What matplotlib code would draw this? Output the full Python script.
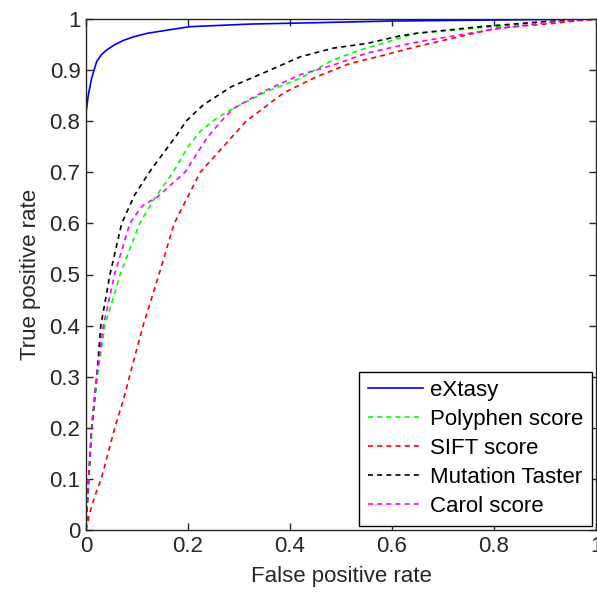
import matplotlib
matplotlib.use("Agg")
import matplotlib.pyplot as plt

# eXtasy
extasy_fpr = [0, 0, 0.0045, 0.011, 0.021, 0.03, 0.04, 0.055, 0.073, 0.093, 0.12, 0.158, 0.204, 0.32, 0.46, 0.6, 0.8, 1.0]
extasy_tpr = [0, 0.816, 0.851, 0.884, 0.917, 0.93, 0.939, 0.949, 0.958, 0.965, 0.972, 0.978, 0.985, 0.99, 0.993, 0.996, 0.998, 1.0]

# Polyphen score
polyphen_fpr = [0, 0.006, 0.012, 0.022, 0.037, 0.067, 0.105, 0.135, 0.171, 0.2, 0.224, 0.256, 0.289,
                0.354, 0.42, 0.485, 0.537, 0.616, 0.648, 0.8, 0.9, 1.0]
polyphen_tpr = [0, 0.1, 0.2, 0.3, 0.4, 0.5, 0.6, 0.65, 0.7, 0.75, 0.78, 0.806, 0.825,
                0.858, 0.884, 0.92, 0.939, 0.963, 0.972, 0.985, 0.995, 1.0]

# SIFT score
sift_fpr = [0, 0.008, 0.018, 0.031, 0.044, 0.057, 0.073, 0.086, 0.099, 0.112, 0.143, 0.173, 0.224,
            0.269, 0.314, 0.387, 0.452, 0.518, 0.583, 0.648, 0.73, 0.805, 0.91, 1.0]
sift_tpr = [0, 0.036, 0.068, 0.104, 0.153, 0.202, 0.254, 0.303, 0.352, 0.4, 0.5, 0.6, 0.7,
            0.75, 0.8, 0.855, 0.887, 0.913, 0.929, 0.946, 0.965, 0.982, 0.991, 1.0]

# Mutation Taster
mt_fpr = [0, 0.005, 0.011, 0.021, 0.029, 0.047, 0.07, 0.095, 0.124, 0.181, 0.196, 0.230, 0.286, 0.354,
          0.42, 0.485, 0.55, 0.616, 0.648, 0.773, 0.9, 1.0]
mt_tpr = [0, 0.1, 0.2, 0.3, 0.4, 0.5, 0.6, 0.655, 0.7, 0.777, 0.8, 0.832, 0.868, 0.897,
          0.926, 0.943, 0.952, 0.967, 0.972, 0.985, 0.995, 1.0]

# Carol score
carol_fpr = [0, 0.005, 0.011, 0.021, 0.034, 0.056, 0.086, 0.109, 0.119, 0.138, 0.194, 0.237, 0.265,
             0.289, 0.354, 0.42, 0.485, 0.55, 0.616, 0.655, 0.8, 0.9, 1.0]
carol_tpr = [0, 0.1, 0.2, 0.3, 0.4, 0.5, 0.6, 0.633, 0.64, 0.65, 0.7, 0.767, 0.8,
             0.825, 0.861, 0.891, 0.91, 0.933, 0.948, 0.956, 0.98, 0.993, 1.0]

ticks = [0, 0.2, 0.4, 0.6, 0.8, 1]
tick_labels = ["0", "0.2", "0.4", "0.6", "0.8", "1"]
yticks = [0, 0.1, 0.2, 0.3, 0.4, 0.5, 0.6, 0.7, 0.8, 0.9, 1]
ytick_labels = ["0", "0.1", "0.2", "0.3", "0.4", "0.5", "0.6", "0.7", "0.8", "0.9", "1"]

plt.rcParams['font.family'] = ['Liberation Sans', 'DejaVu Sans']

fig = plt.figure(figsize=(5.97, 5.92), dpi=100)
ax = fig.add_axes([86 / 597, 62 / 592, 510 / 597, 511 / 592])

dash = (0, (3, 2.5))
ax.plot(extasy_fpr, extasy_tpr, color=(0, 0, 1), lw=1.2, label="eXtasy")
ax.plot(polyphen_fpr, polyphen_tpr, color=(0, 1, 0), lw=1.2, ls=dash, label="Polyphen score")
ax.plot(sift_fpr, sift_tpr, color=(1, 0, 0), lw=1.2, ls=dash, label="SIFT score")
ax.plot(mt_fpr, mt_tpr, color=(0, 0, 0), lw=1.2, ls=dash, label="Mutation Taster")
ax.plot(carol_fpr, carol_tpr, color=(1, 0, 1), lw=1.2, ls=dash, label="Carol score")

ax.set_xlim(0, 1)
ax.set_ylim(0, 1)
ax.set_xticks(ticks)
ax.set_xticklabels(tick_labels)
ax.set_yticks(yticks)
ax.set_yticklabels(ytick_labels)
ax.tick_params(direction='in', length=5, width=1, top=True, right=True, labelsize=16, pad=4,
               colors='#262626', labelcolor='#262626')
for s in ax.spines.values():
    s.set_linewidth(1)
    s.set_color('#262626')

ax.set_xlabel("False positive rate", fontsize=16, color='#262626', labelpad=7)
ax.set_ylabel("True positive rate", fontsize=16, color='#262626', labelpad=6)

leg = ax.legend(loc='lower right', fontsize=16, frameon=True, fancybox=False, framealpha=1,
                edgecolor='black', handlelength=2.5, handletextpad=0.3, labelspacing=0.36,
                borderaxespad=0.2, borderpad=0.38)
leg.get_frame().set_linewidth(1)

fig.savefig("out.png", dpi=100)
